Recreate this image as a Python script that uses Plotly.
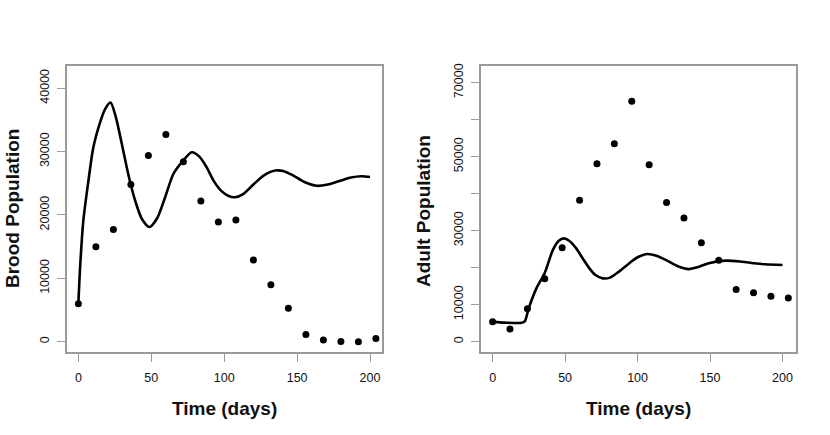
import plotly.graph_objects as go

# Observed data (days)
obs_days = [0, 12, 24, 36, 48, 60, 72, 84, 96, 108, 120, 132, 144, 156, 168, 180, 192, 204]
brood_obs = [6000, 15000, 17700, 24800, 29400, 32700, 28400, 22200, 18900, 19200,
             12900, 9000, 5300, 1150, 260, 50, 0, 520]
adult_obs = [5400, 3400, 8900, 17000, 25400, 38200, 48100, 53500, 65000, 47800,
             37600, 33400, 26700, 22000, 14100, 13200, 12300, 11800]

# Model curves
brood_model_t = [0, 1.2, 3.4, 6.9, 10.3, 14.9, 18.3, 22.0, 25.5, 29.8, 33.2, 35.9, 38.9,
                 43.5, 48.7, 53.8, 59.5, 65.2, 71.6, 77.8, 83, 88, 93, 98, 103, 107.5,
                 113, 120, 127, 135, 141, 147.5, 155, 163.5, 171, 179.5, 187, 194, 200]
brood_model_y = [6000, 11800, 19100, 25400, 30700, 34600, 36700, 37750, 35600, 31200,
                 27500, 24800, 22300, 19400, 18100, 19400, 22800, 26500, 28500, 29900,
                 29200, 27500, 25300, 23800, 23000, 22800, 23300, 24800, 26200, 27000,
                 26900, 26200, 25200, 24600, 24800, 25400, 25900, 26100, 26000]

adult_model_t = [0, 5, 10, 15.3, 20, 22.2, 24.9, 30.2, 35.9, 41.6, 45.5, 49.2, 53, 57.7,
                 62, 66.8, 71, 76, 81, 87.4, 94.3, 100, 106.8, 113, 119.4, 127, 135.4,
                 142, 149.2, 160.6, 172, 180, 188, 200]
adult_model_y = [5400, 5200, 5100, 5050, 5100, 5500, 9000, 14400, 18500, 24800, 27200,
                 27900, 27200, 25200, 22600, 19800, 18000, 17100, 17300, 19000, 21200,
                 22800, 23700, 23200, 22100, 20500, 19600, 20200, 21200, 21900, 21600,
                 21200, 20900, 20700]

brood_ticks = [0, 10000, 20000, 30000, 40000]
brood_ticktext = ["0", "10000", "20000", "30000", "40000"]
adult_ticks = [0, 10000, 20000, 30000, 40000, 50000, 60000, 70000]
adult_ticktext = ["0", "10000", "", "30000", "", "50000", "", "70000"]
x_ticks = [0, 50, 100, 150, 200]

fig = go.Figure()

line_style = dict(color="black", width=2.6, shape="spline", smoothing=0.8)
fig.add_trace(go.Scatter(x=brood_model_t, y=brood_model_y, mode="lines", line=line_style,
                         xaxis="x", yaxis="y", showlegend=False))
fig.add_trace(go.Scatter(x=obs_days, y=brood_obs, mode="markers",
                         marker=dict(color="black", size=7),
                         xaxis="x", yaxis="y", showlegend=False))
fig.add_trace(go.Scatter(x=adult_model_t, y=adult_model_y, mode="lines", line=line_style,
                         xaxis="x2", yaxis="y2", showlegend=False))
fig.add_trace(go.Scatter(x=obs_days, y=adult_obs, mode="markers",
                         marker=dict(color="black", size=7),
                         xaxis="x2", yaxis="y2", showlegend=False))

W, H = 830, 435
box_color = "#9a9a9a"
tickfont = dict(family="Liberation Sans, Arial, sans-serif", size=12.5, color="#111111")

common_x = dict(showgrid=False, zeroline=False, showline=True, mirror=True,
                linecolor=box_color, linewidth=1.5, ticks="outside", ticklen=8,
                tickcolor=box_color, tickwidth=1.2, tickvals=x_ticks,
                tickfont=tickfont, automargin=False, ticklabelstandoff=5)
common_y = dict(showgrid=False, zeroline=False, showline=True, mirror=True,
                linecolor=box_color, linewidth=1.5, ticks="outside", ticklen=8,
                tickcolor=box_color, tickwidth=1.2, tickangle=-90,
                tickfont=tickfont, automargin=False, ticklabelstandoff=3)

ydom = [(H - 352) / H, (H - 66) / H]

fig.update_layout(
    width=W, height=H,
    margin=dict(l=0, r=0, t=0, b=0),
    paper_bgcolor="white", plot_bgcolor="white",
    xaxis=dict(domain=[67 / W, 382 / W], range=[-7.8, 208.2], anchor="y", **common_x),
    yaxis=dict(domain=ydom, range=[-1620, 43500], anchor="x",
               tickvals=brood_ticks, ticktext=brood_ticktext, **common_y),
    xaxis2=dict(domain=[481 / W, 796 / W], range=[-8.0, 209.3], anchor="y2", **common_x),
    yaxis2=dict(domain=ydom, range=[-2800, 74500], anchor="x2",
                tickvals=adult_ticks, ticktext=adult_ticktext, **common_y),
)

labfont = dict(family="Liberation Sans, Arial, sans-serif", size=19, color="#111111")
fig.add_annotation(text="<b>Time (days)</b>", x=(67 + 382) / 2 / W, y=(H - 408) / H,
                   xref="paper", yref="paper", showarrow=False, font=labfont,
                   xanchor="center", yanchor="middle")
fig.add_annotation(text="<b>Time (days)</b>", x=(481 + 796) / 2 / W, y=(H - 408) / H,
                   xref="paper", yref="paper", showarrow=False, font=labfont,
                   xanchor="center", yanchor="middle")
fig.add_annotation(text="<b>Brood Population</b>", x=0.5 / W, y=(H - 209) / H,
                   xref="paper", yref="paper", showarrow=False, font=labfont,
                   textangle=-90, xanchor="left", yanchor="middle", borderpad=0)
fig.add_annotation(text="<b>Adult Population</b>", x=423 / W, y=(H - 211) / H,
                   xref="paper", yref="paper", showarrow=False, font=labfont,
                   textangle=-90, xanchor="center", yanchor="middle")

fig.write_html("out.html", config={"displayModeBar": False},
               post_script="document.body.style.margin='0';document.body.style.overflow='hidden';")
